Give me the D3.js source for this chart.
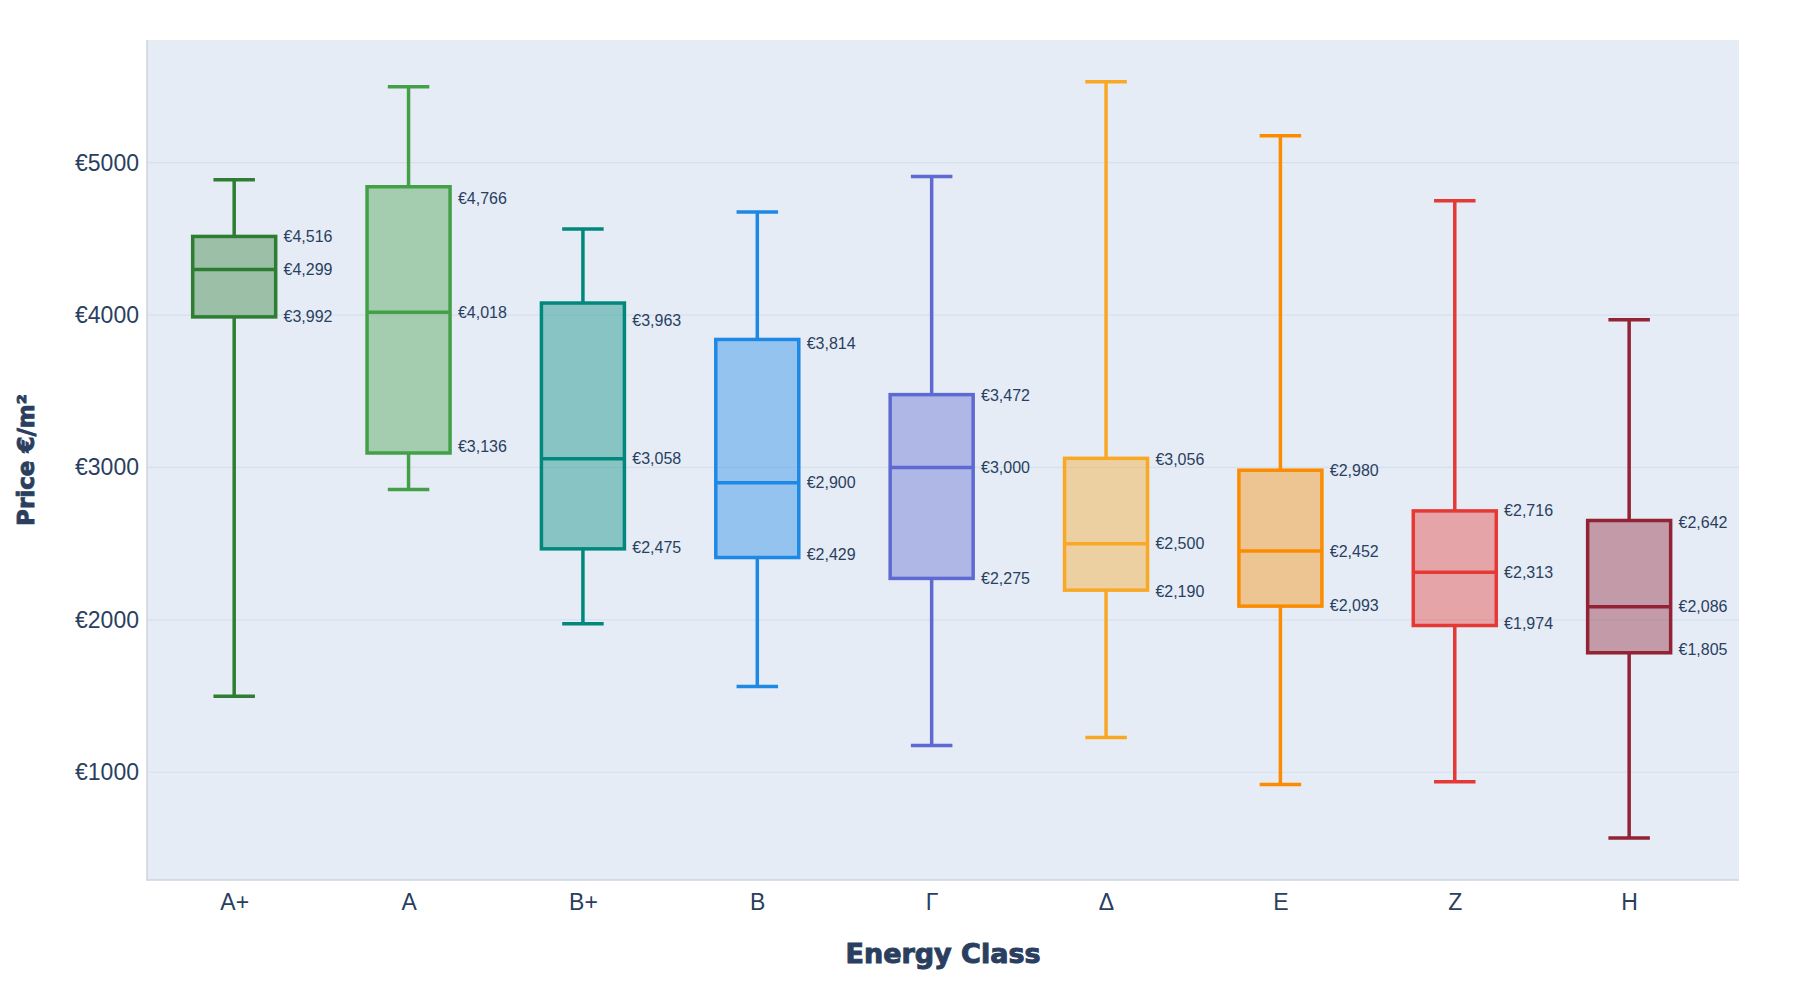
<!DOCTYPE html>
<html>
<head>
<meta charset="utf-8">
<script src="https://cdn.jsdelivr.net/npm/d3@7"></script>
<style>
  html, body { margin: 0; padding: 0; background: #ffffff; }
  svg { display: block; }
</style>
</head>
<body>
<svg id="chart" width="1800" height="1000"></svg>
<script>
// ---- data ----
const categories = ["A+", "A", "B+", "B", "Γ", "Δ", "E", "Z", "H"];
const lowerWhisker = [1499, 2856, 1974, 1562, 1176, 1228, 919, 937, 568];
const q1Values     = [3988, 3095, 2466, 2409, 2272, 2195, 2090, 1963, 1784];
const medianValues = [4299, 4018, 3058, 2900, 3000, 2500, 2452, 2313, 2086];
const q3Values     = [4516, 4842, 4079, 3840, 3478, 3060, 2982, 2715, 2652];
const upperWhisker = [4888, 5499, 4564, 4677, 4909, 5531, 5176, 4750, 3970];
// annotation values shown next to each box (Q3, median, Q1)
const labelQ3     = [4516, 4766, 3963, 3814, 3472, 3056, 2980, 2716, 2642];
const labelMedian = [4299, 4018, 3058, 2900, 3000, 2500, 2452, 2313, 2086];
const labelQ1     = [3992, 3136, 2475, 2429, 2275, 2190, 2093, 1974, 1805];
const colors = ["#2e7d32", "#43a047", "#00897b", "#1e88e5", "#5e6ad2", "#f9a825", "#fb8c00", "#e53935", "#922335"];
const yTicks = [1000, 2000, 3000, 4000, 5000];

// ---- layout ----
const plot = { left: 147, right: 1739, top: 40, bottom: 880 };
const textColor = "#2a3f5f";
const tickFont = "'Liberation Sans', Arial, sans-serif";
const titleFont = "'Arial Black', 'DejaVu Sans', sans-serif";

const svg = d3.select("#chart");

const x = d3.scaleLinear().domain([-0.5, 8.63]).range([plot.left, plot.right]);
const y = d3.scaleLinear().domain([293, 5805]).range([plot.bottom, plot.top]);
const step = x(1) - x(0);
const boxW = step * 0.476;
const capW = boxW * 0.5;

// background
svg.append("rect")
  .attr("x", plot.left).attr("y", plot.top)
  .attr("width", plot.right - plot.left).attr("height", plot.bottom - plot.top)
  .attr("fill", "#e5ecf6");

// gridlines
svg.append("g").selectAll("line").data(yTicks).join("line")
  .attr("x1", plot.left).attr("x2", plot.right)
  .attr("y1", d => y(d)).attr("y2", d => y(d))
  .attr("stroke", "#d6e0ec").attr("stroke-width", 1.2);

// y axis
const yAxis = d3.axisLeft(y).tickValues(yTicks).tickFormat(d => "€" + d).tickSize(0).tickPadding(8);
const gy = svg.append("g").attr("transform", `translate(${plot.left},0)`).call(yAxis);
gy.select(".domain").remove();
gy.selectAll("text").attr("font-family", tickFont).attr("font-size", 23).attr("fill", textColor);

// x axis
const xAxis = d3.axisBottom(x).tickValues(d3.range(categories.length)).tickFormat(i => categories[i]).tickSize(0).tickPadding(14);
const gx = svg.append("g").attr("transform", `translate(0,${plot.bottom})`).call(xAxis);
gx.select(".domain").remove();
gx.selectAll("text").attr("font-family", tickFont).attr("font-size", 23).attr("fill", textColor);

// axis lines
svg.append("line").attr("x1", plot.left).attr("x2", plot.left).attr("y1", plot.top).attr("y2", plot.bottom + 0.75)
  .attr("stroke", "#c8d4e3").attr("stroke-width", 1.5);
svg.append("line").attr("x1", plot.left).attr("x2", plot.right).attr("y1", plot.bottom).attr("y2", plot.bottom)
  .attr("stroke", "#c8d4e3").attr("stroke-width", 1.5);

// boxes
const data = categories.map((c, i) => ({
  i, c, lo: lowerWhisker[i], q1: q1Values[i], med: medianValues[i], q3: q3Values[i], hi: upperWhisker[i],
  lq3: labelQ3[i], lmed: labelMedian[i], lq1: labelQ1[i], color: colors[i]
}));

const g = svg.append("g").selectAll("g").data(data).join("g");
const sw = 3.5;
// whiskers
g.append("line").attr("x1", d => x(d.i)).attr("x2", d => x(d.i))
  .attr("y1", d => y(d.q3)).attr("y2", d => y(d.hi)).attr("stroke", d => d.color).attr("stroke-width", sw);
g.append("line").attr("x1", d => x(d.i)).attr("x2", d => x(d.i))
  .attr("y1", d => y(d.q1)).attr("y2", d => y(d.lo)).attr("stroke", d => d.color).attr("stroke-width", sw);
// caps
g.append("line").attr("x1", d => x(d.i) - capW / 2).attr("x2", d => x(d.i) + capW / 2)
  .attr("y1", d => y(d.hi)).attr("y2", d => y(d.hi)).attr("stroke", d => d.color).attr("stroke-width", sw);
g.append("line").attr("x1", d => x(d.i) - capW / 2).attr("x2", d => x(d.i) + capW / 2)
  .attr("y1", d => y(d.lo)).attr("y2", d => y(d.lo)).attr("stroke", d => d.color).attr("stroke-width", sw);
// box
g.append("rect")
  .attr("x", d => x(d.i) - boxW / 2).attr("width", boxW)
  .attr("y", d => y(d.q3)).attr("height", d => y(d.q1) - y(d.q3))
  .attr("fill", d => d.color).attr("fill-opacity", 0.4)
  .attr("stroke", d => d.color).attr("stroke-width", sw);
// median
g.append("line").attr("x1", d => x(d.i) - boxW / 2).attr("x2", d => x(d.i) + boxW / 2)
  .attr("y1", d => y(d.med)).attr("y2", d => y(d.med)).attr("stroke", d => d.color).attr("stroke-width", sw);

// labels
const fmt = d3.format(",");
["lq3", "lmed", "lq1"].forEach(k => {
  g.append("text")
    .attr("x", d => x(d.i) + step * 0.283)
    .attr("y", d => y(d[k]))
    .attr("dy", "0.35em")
    .attr("font-family", tickFont).attr("font-size", 16).attr("fill", textColor)
    .text(d => "€" + fmt(d[k]));
});

// axis titles
svg.append("text")
  .attr("x", (plot.left + plot.right) / 2).attr("y", 963)
  .attr("text-anchor", "middle")
  .attr("font-family", titleFont).attr("font-weight", "bold").attr("font-size", 27)
  .attr("fill", textColor).attr("stroke", textColor).attr("stroke-width", 1)
  .text("Energy Class");

svg.append("text")
  .attr("transform", `translate(34,${(plot.top + plot.bottom) / 2}) rotate(-90)`)
  .attr("text-anchor", "middle")
  .attr("font-family", titleFont).attr("font-weight", "bold").attr("font-size", 23)
  .attr("fill", textColor).attr("stroke", textColor).attr("stroke-width", 0.9)
  .text("Price €/m²");
</script>
</body>
</html>
